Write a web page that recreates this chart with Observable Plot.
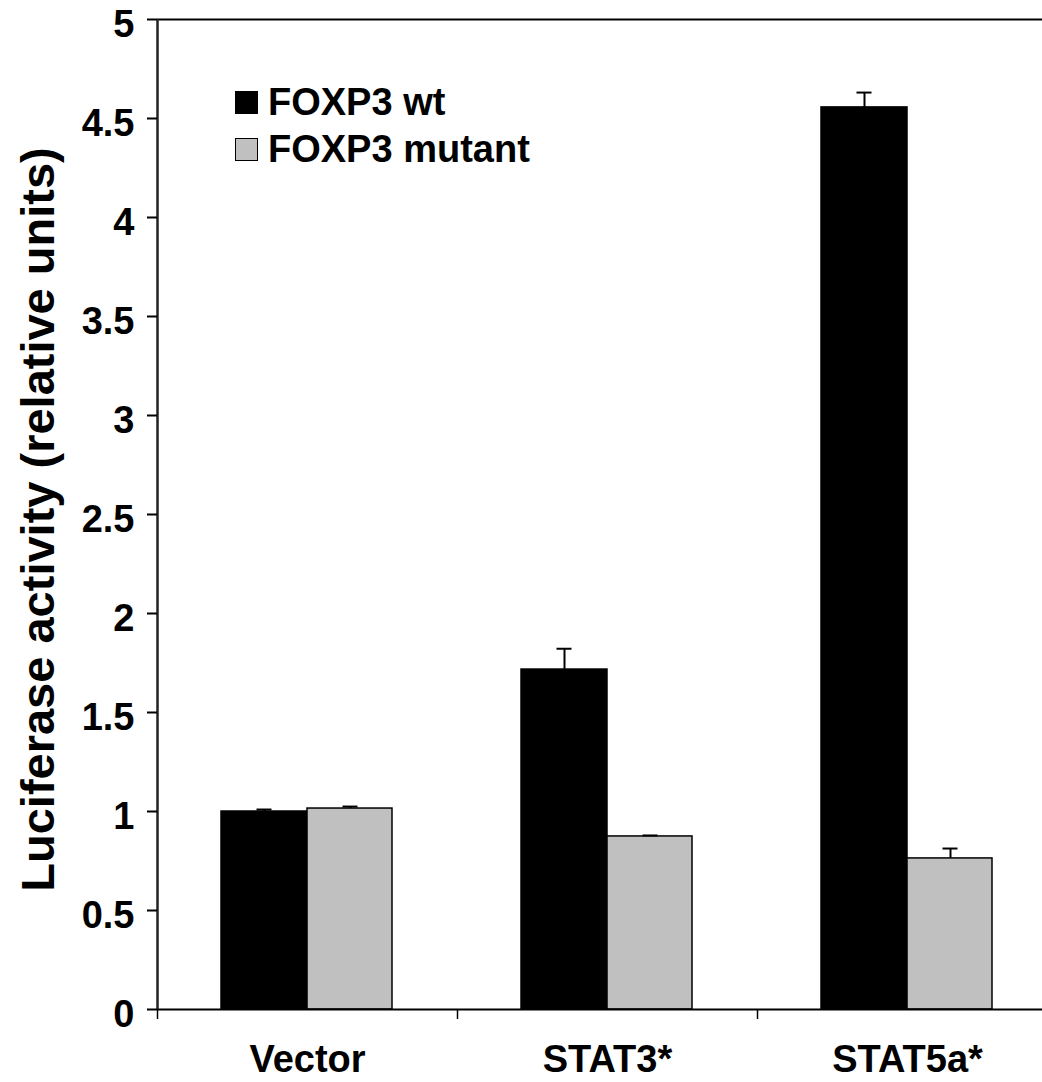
<!DOCTYPE html>
<html>
<head>
<meta charset="utf-8">
<script src="https://cdn.jsdelivr.net/npm/d3@7"></script>
<script src="https://cdn.jsdelivr.net/npm/@observablehq/plot@0.6"></script>
<style>
  html, body { margin: 0; padding: 0; background: #fff; }
  #wrap { position: relative; width: 1042px; height: 1082px; font-family: "Liberation Sans", Arial, sans-serif; }
  .leg { position: absolute; left: 235px; display: flex; align-items: center; font-weight: bold; font-size: 38px; color: #000; }
  .sw { width: 21px; height: 21px; border: 1px solid #000; margin-right: 10px; box-sizing: content-box; }
</style>
</head>
<body>
<div id="wrap"></div>
<script>
const categories = ["Vector", "STAT3*", "STAT5a*"];
const seriesNames = ["FOXP3 wt", "FOXP3 mutant"];
const wtValues = [1.00, 1.717, 4.556];
const wtErrors = [0.01, 0.105, 0.075];
const mutantValues = [1.015, 0.874, 0.763];
const mutantErrors = [0.01, 0.005, 0.05];
const yTicks = [0, 0.5, 1, 1.5, 2, 2.5, 3, 3.5, 4, 4.5, 5];
const yLabel = "Luciferase activity (relative units)";

const wt = categories.map((c, i) => ({cat: c, value: wtValues[i], err: wtErrors[i]}));
const mut = categories.map((c, i) => ({cat: c, value: mutantValues[i], err: mutantErrors[i]}));

const font = "Liberation Sans, Arial, sans-serif";

const chart = Plot.plot({
  width: 1042,
  height: 1082,
  marginLeft: 157,
  marginRight: 0,
  marginTop: 19,
  marginBottom: 73,
  style: {fontFamily: font, background: "#fff", color: "#000"},
  x: {domain: categories, range: [157, 1057], padding: 0, axis: null},
  y: {domain: [0, 5], axis: null},
  marks: [
    // bars
    Plot.barY(wt, {x: "cat", y: "value", fill: "#000", stroke: "#000", strokeWidth: 1.5, insetLeft: 64, insetRight: 150}),
    Plot.barY(mut, {x: "cat", y: "value", fill: "#c0c0c0", stroke: "#000", strokeWidth: 1.5, insetLeft: 150, insetRight: 65}),
    // error bars
    Plot.ruleX(wt, {x: "cat", y1: "value", y2: d => d.value + d.err, dx: -43, stroke: "#000", strokeWidth: 2}),
    Plot.tickY(wt, {x: "cat", y: d => d.value + d.err, insetLeft: 99.5, insetRight: 185.5, stroke: "#000", strokeWidth: 2}),
    Plot.ruleX(mut, {x: "cat", y1: "value", y2: d => d.value + d.err, dx: 43, stroke: "#000", strokeWidth: 2}),
    Plot.tickY(mut, {x: "cat", y: d => d.value + d.err, insetLeft: 185.5, insetRight: 99.5, stroke: "#000", strokeWidth: 2}),
    // axes lines
    Plot.ruleY([0], {stroke: "#000", strokeWidth: 2}),
    Plot.ruleY([5], {stroke: "#000", strokeWidth: 2}),
    Plot.ruleX([categories[0]], {y1: 0, y2: 5, dx: -150, stroke: "#222", strokeWidth: 2.5}),
    // y axis ticks
    Plot.axisY({ticks: yTicks, text: null, tickSize: 10, stroke: "#000", strokeWidth: 2, label: null}),
    // y axis labels (slightly lowered as in reference)
    Plot.axisY({ticks: yTicks, tickSize: 0, tickPadding: 23, dy: 5, fontSize: 38, fontWeight: "bold", label: null, tickFormat: d => String(d)}),
    // x axis ticks at band boundaries
    Plot.axisX({text: null, tickSize: 10, dx: -150, stroke: "#000", strokeWidth: 1.5, label: null}),
    // x axis labels
    Plot.axisX({tickSize: 0, tickPadding: 36, fontSize: 38, fontWeight: "bold", label: null}),
    // y title
    Plot.text([yLabel], {frameAnchor: "left", rotate: -90, dx: -119, dy: 5, fontSize: 47, fontWeight: "bold", textAnchor: "middle", lineAnchor: "middle", fill: "#000"})
  ]
});

const wrap = document.getElementById("wrap");
wrap.appendChild(chart);

const colors = ["#000", "#c0c0c0"];
const tops = [81, 128];
seriesNames.forEach((name, i) => {
  const d = document.createElement("div");
  d.className = "leg";
  d.style.top = tops[i] + "px";
  const sw = document.createElement("div");
  sw.className = "sw";
  sw.style.background = colors[i];
  const t = document.createElement("span");
  t.textContent = name;
  d.appendChild(sw);
  d.appendChild(t);
  wrap.appendChild(d);
});
chart.style.position = "absolute";
chart.style.left = "0";
chart.style.top = "0";
</script>
</body>
</html>
